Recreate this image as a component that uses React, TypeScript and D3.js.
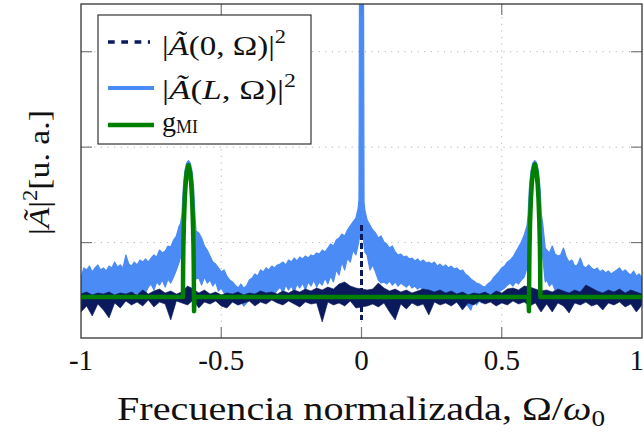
import React from 'react';
import * as d3 from 'd3';

// ---------- data ----------
const xTicks = [-1, -0.5, 0, 0.5, 1];
const xTickLabels = ['-1', '-0.5', '0', '0.5', '1'];
const yGrid = [1, 2, 3];

// |A(L,Ω)|^2 : [Ω, upper envelope, lower envelope]
const blueBand: [number, number, number][] = [
  [-1.00,0.629,0.440],[-0.99,0.734,0.398],[-0.98,0.713,0.430],[-0.97,0.754,0.440],[-0.96,0.692,0.377],
  [-0.95,0.734,0.440],[-0.94,0.765,0.451],[-0.93,0.713,0.419],[-0.92,0.734,0.451],[-0.91,0.702,0.440],
  [-0.90,0.754,0.461],[-0.89,0.734,0.440],[-0.88,0.796,0.451],[-0.87,0.744,0.440],[-0.86,0.765,0.472],
  [-0.85,0.734,0.451],[-0.84,0.870,0.461],[-0.83,0.775,0.472],[-0.82,0.754,0.451],[-0.81,0.796,0.482],
  [-0.80,0.765,0.461],[-0.79,0.817,0.472],[-0.78,0.796,0.503],[-0.77,0.828,0.472],[-0.76,0.796,0.534],
  [-0.75,0.838,0.566],[-0.74,0.870,0.503],[-0.73,0.849,0.587],[-0.72,0.922,0.555],[-0.71,0.891,0.608],
  [-0.70,0.912,0.534],[-0.69,0.964,0.618],[-0.68,0.954,0.576],[-0.67,1.027,0.639],[-0.66,1.069,0.713],
  [-0.65,1.174,0.796],[-0.645,1.20,0.85],[-0.640,1.30,1.10],[-0.638,1.42,1.36],[-0.636,1.55,1.50],
  [-0.633,1.66,1.62],[-0.629,1.76,1.72],[-0.624,1.83,1.80],[-0.617,1.86,1.82],[-0.610,1.83,1.80],
  [-0.605,1.76,1.72],[-0.601,1.66,1.62],[-0.598,1.55,1.50],[-0.596,1.42,1.36],[-0.594,1.30,1.10],
  [-0.590,1.12,0.62],[-0.58,1.100,0.629],[-0.57,1.048,0.555],[-0.56,0.964,0.639],[-0.55,0.922,0.576],
  [-0.54,0.859,0.608],[-0.53,0.796,0.545],[-0.52,0.775,0.587],[-0.51,0.734,0.493],[-0.50,0.692,0.524],
  [-0.49,0.713,0.472],[-0.48,0.650,0.451],[-0.47,0.608,0.419],[-0.46,0.587,0.398],[-0.45,0.555,0.367],
  [-0.44,0.524,0.346],[-0.43,0.566,0.388],[-0.42,0.524,0.335],[-0.41,0.545,0.367],[-0.40,0.608,0.398],
  [-0.39,0.629,0.419],[-0.38,0.671,0.430],[-0.37,0.650,0.419],[-0.36,0.713,0.440],[-0.35,0.692,0.430],
  [-0.34,0.734,0.451],[-0.33,0.713,0.440],[-0.32,0.754,0.482],[-0.31,0.734,0.461],[-0.30,0.765,0.503],
  [-0.29,0.775,0.534],[-0.28,0.796,0.472],[-0.27,0.765,0.555],[-0.26,0.817,0.503],[-0.25,0.796,0.545],
  [-0.24,0.838,0.482],[-0.23,0.807,0.566],[-0.22,0.849,0.524],[-0.21,0.828,0.576],[-0.20,0.859,0.503],
  [-0.19,0.838,0.587],[-0.18,0.870,0.545],[-0.17,0.859,0.608],[-0.16,0.891,0.534],[-0.15,0.880,0.587],
  [-0.14,0.922,0.555],[-0.13,0.901,0.629],[-0.12,0.943,0.566],[-0.11,0.985,0.650],[-0.10,0.964,0.587],
  [-0.09,1.027,0.713],[-0.08,1.048,0.660],[-0.07,1.090,0.796],[-0.06,1.069,0.713],[-0.05,1.132,0.838],
  [-0.04,1.174,0.796],[-0.03,1.216,0.922],[-0.02,1.257,0.870],[-0.012,1.362,0.975],[-0.009,1.446,1.027],
  [-0.007,4.0,1.05],[0.007,4.0,1.05],[0.009,1.425,0.975],[0.012,1.341,0.901],[0.02,1.236,0.870],
  [0.03,1.184,0.713],[0.04,1.132,0.765],[0.05,1.100,0.692],[0.06,1.048,0.608],[0.07,1.069,0.576],
  [0.08,1.006,0.587],[0.09,0.985,0.566],[0.10,0.943,0.597],[0.11,0.964,0.555],[0.12,0.901,0.587],
  [0.13,0.870,0.545],[0.14,0.880,0.576],[0.15,0.849,0.555],[0.16,0.859,0.534],[0.17,0.828,0.566],
  [0.18,0.838,0.524],[0.19,0.807,0.545],[0.20,0.828,0.513],[0.21,0.796,0.534],[0.22,0.817,0.493],
  [0.23,0.786,0.524],[0.24,0.796,0.482],[0.25,0.775,0.503],[0.26,0.796,0.461],[0.27,0.754,0.482],
  [0.28,0.775,0.440],[0.29,0.744,0.461],[0.30,0.765,0.430],[0.31,0.734,0.440],[0.32,0.754,0.419],
  [0.33,0.723,0.398],[0.34,0.734,0.377],[0.35,0.702,0.346],[0.36,0.713,0.314],[0.37,0.671,0.367],
  [0.38,0.650,0.335],[0.39,0.618,0.293],[0.40,0.597,0.398],[0.41,0.576,0.346],[0.42,0.566,0.388],
  [0.43,0.545,0.367],[0.44,0.534,0.398],[0.45,0.566,0.419],[0.46,0.587,0.388],[0.47,0.629,0.440],
  [0.48,0.660,0.461],[0.49,0.692,0.482],[0.50,0.734,0.503],[0.51,0.754,0.524],[0.52,0.796,0.555],
  [0.53,0.817,0.576],[0.54,0.849,0.545],[0.55,0.901,0.587],[0.56,0.954,0.566],[0.57,1.006,0.608],
  [0.58,1.079,0.639],[0.59,1.174,0.734],[0.594,1.30,1.10],[0.596,1.42,1.36],[0.598,1.55,1.50],
  [0.601,1.66,1.62],[0.605,1.76,1.72],[0.610,1.83,1.80],[0.618,1.86,1.82],[0.625,1.83,1.80],
  [0.630,1.76,1.72],[0.634,1.66,1.62],[0.637,1.55,1.50],[0.639,1.42,1.36],[0.641,1.30,1.10],
  [0.646,1.20,0.85],[0.655,0.943,0.587],[0.66,0.922,0.608],[0.67,0.891,0.545],[0.68,0.964,0.576],
  [0.69,0.880,0.503],[0.70,0.859,0.534],[0.71,0.870,0.472],[0.72,0.943,0.503],[0.73,0.849,0.461],
  [0.74,0.796,0.482],[0.75,0.817,0.451],[0.76,0.754,0.472],[0.77,0.765,0.440],[0.78,0.838,0.472],
  [0.79,0.754,0.461],[0.80,0.734,0.451],[0.81,0.765,0.440],[0.82,0.734,0.461],[0.83,0.713,0.430],
  [0.84,0.734,0.451],[0.85,0.692,0.419],[0.86,0.713,0.440],[0.87,0.681,0.398],[0.88,0.702,0.440],
  [0.89,0.671,0.419],[0.90,0.692,0.451],[0.91,0.713,0.430],[0.92,0.734,0.461],[0.93,0.692,0.419],
  [0.94,0.713,0.440],[0.95,0.681,0.409],[0.96,0.660,0.430],[0.97,0.702,0.398],[0.98,0.650,0.419],
  [0.99,0.671,0.430],[1.00,0.629,0.440],
];

// |A(0,Ω)|^2 : [Ω, upper envelope, lower envelope]
const navyBand: [number, number, number][] = [
  [-1.00,0.461,0.272],[-0.98,0.482,0.335],[-0.96,0.451,0.231],[-0.94,0.472,0.356],[-0.92,0.461,0.293],
  [-0.90,0.482,0.210],[-0.88,0.451,0.367],[-0.86,0.472,0.314],[-0.84,0.461,0.388],[-0.82,0.482,0.346],
  [-0.80,0.451,0.377],[-0.78,0.503,0.335],[-0.76,0.461,0.398],[-0.74,0.493,0.325],[-0.72,0.513,0.377],
  [-0.70,0.472,0.356],[-0.68,0.493,0.189],[-0.66,0.461,0.388],[-0.64,0.482,0.367],[-0.62,0.545,0.346],
  [-0.60,0.513,0.398],[-0.58,0.472,0.314],[-0.56,0.503,0.377],[-0.54,0.461,0.356],[-0.52,0.482,0.388],
  [-0.50,0.451,0.335],[-0.48,0.472,0.314],[-0.46,0.461,0.377],[-0.44,0.482,0.346],[-0.42,0.451,0.367],
  [-0.40,0.472,0.388],[-0.38,0.461,0.335],[-0.36,0.493,0.377],[-0.34,0.472,0.356],[-0.32,0.482,0.398],
  [-0.30,0.461,0.367],[-0.28,0.493,0.346],[-0.26,0.472,0.388],[-0.24,0.503,0.356],[-0.22,0.482,0.325],
  [-0.20,0.513,0.377],[-0.18,0.493,0.356],[-0.16,0.524,0.367],[-0.14,0.503,0.168],[-0.12,0.534,0.377],
  [-0.10,0.513,0.346],[-0.08,0.566,0.367],[-0.06,0.587,0.335],[-0.04,0.545,0.388],[-0.02,0.524,0.314],
  [0.00,1.184,0.189],
  [0.02,0.503,0.335],[0.04,0.513,0.356],[0.06,0.576,0.325],[0.08,0.524,0.367],[0.10,0.493,0.272],
  [0.12,0.513,0.189],[0.14,0.482,0.356],[0.16,0.503,0.304],[0.18,0.472,0.367],[0.20,0.493,0.335],
  [0.22,0.513,0.356],[0.24,0.503,0.241],[0.26,0.482,0.377],[0.28,0.503,0.346],[0.30,0.472,0.367],
  [0.32,0.493,0.335],[0.34,0.461,0.377],[0.36,0.482,0.293],[0.38,0.451,0.367],[0.40,0.472,0.346],
  [0.42,0.461,0.388],[0.44,0.482,0.356],[0.46,0.451,0.377],[0.48,0.493,0.335],[0.50,0.472,0.367],
  [0.52,0.513,0.346],[0.54,0.524,0.388],[0.56,0.503,0.356],[0.58,0.545,0.377],[0.60,0.534,0.335],
  [0.62,0.513,0.367],[0.64,0.493,0.272],[0.66,0.503,0.356],[0.68,0.482,0.272],[0.70,0.513,0.367],
  [0.72,0.493,0.335],[0.74,0.472,0.262],[0.76,0.503,0.367],[0.78,0.482,0.346],[0.80,0.555,0.377],
  [0.82,0.524,0.335],[0.84,0.493,0.356],[0.86,0.472,0.293],[0.88,0.503,0.367],[0.90,0.482,0.346],
  [0.92,0.513,0.377],[0.94,0.472,0.325],[0.96,0.503,0.356],[0.98,0.482,0.272],[1.00,0.461,0.346],
];

// g_MI
const greenOmega = [
  -1.0, -0.6365, -0.636, -0.635, -0.633, -0.630, -0.627, -0.623, -0.617, -0.611, -0.607, -0.604,
  -0.601, -0.599, -0.598, -0.597, -0.595, 0.595, 0.597, 0.598, 0.599, 0.601, 0.604, 0.607, 0.611,
  0.618, 0.624, 0.628, 0.631, 0.634, 0.636, 0.637, 0.6375, 1.0,
];
const greenValue = [
  0.43, 0.43, 0.74, 0.96, 1.22, 1.46, 1.61, 1.74, 1.81, 1.74, 1.61, 1.46,
  1.22, 0.96, 0.74, 0.28, 0.43, 0.43, 0.28, 0.74, 0.96, 1.22, 1.46, 1.61, 1.74,
  1.82, 1.74, 1.61, 1.46, 1.22, 0.96, 0.74, 0.43, 0.43,
];

// ---------- layout ----------
const W = 644;
const H = 435;
const P = { left: 81, right: 642, top: 4, bottom: 338 };
const NAVY = '#0b1a5c';
const BLUE = '#4b8bf5';
const GREEN = '#008000';
const FONT = "'Liberation Serif', 'Times New Roman', serif";

export default function App() {
  const x = d3.scaleLinear().domain([-1, 1]).range([P.left, P.right]);
  const y = d3.scaleLinear().domain([0, 3.5]).range([P.bottom, P.top]);

  const band = d3
    .area<[number, number, number]>()
    .x((d) => x(d[0]))
    .y0((d) => y(d[2]))
    .y1((d) => y(d[1]));

  const navyNoise = navyBand.filter((d) => d[1] - d[2] < 0.6);
  const navySpikes = navyBand.filter((d) => d[1] - d[2] >= 0.6);

  const greenLine = d3
    .line<number>()
    .x((d) => x(d))
    .y((_, i) => y(greenValue[i]));

  return (
    <svg
      width={W}
      height={H}
      style={{ position: 'absolute', left: 0, top: 0, background: '#fff' }}
    >
      <defs>
        <clipPath id="plotclip">
          <rect x={P.left} y={P.top} width={P.right - P.left} height={P.bottom - P.top} />
        </clipPath>
      </defs>
      <rect x={0} y={0} width={W} height={H} fill="#fff" />

      {/* grid */}
      <g stroke="#b4b4b4" strokeWidth={1} strokeDasharray="1.2 5.4">
        {yGrid.map((v) => (
          <line key={'gy' + v} x1={P.left} x2={P.right} y1={y(v)} y2={y(v)} />
        ))}
        {xTicks
          .filter((t) => t > -1 && t < 1)
          .map((t) => (
            <line key={'gx' + t} x1={x(t)} x2={x(t)} y1={P.top} y2={P.bottom} />
          ))}
      </g>

      {/* data */}
      <g clipPath="url(#plotclip)">
        <path
          d={band(blueBand) || ''}
          fill={BLUE}
          stroke={BLUE}
          strokeWidth={1.2}
          strokeLinejoin="round"
        />
        <path d={band(navyNoise) || ''} fill={NAVY} stroke={NAVY} strokeWidth={0.6} />
        {navySpikes.map((d) => (
          <line
            key={'ns' + d[0]}
            x1={x(d[0])}
            x2={x(d[0])}
            y1={y(d[1])}
            y2={y(d[2])}
            stroke={NAVY}
            strokeWidth={3}
            strokeDasharray="6 3"
          />
        ))}
        <path
          d={greenLine(greenOmega) || ''}
          fill="none"
          stroke={GREEN}
          strokeWidth={4.5}
          strokeLinejoin="round"
        />
      </g>

      {/* tick marks */}
      <g stroke="#7a7a7a" strokeWidth={1.2}>
        {xTicks
          .filter((t) => t > -1 && t < 1)
          .map((t) => (
            <g key={'tx' + t}>
              <line x1={x(t)} x2={x(t)} y1={P.bottom} y2={P.bottom - 11} />
              <line x1={x(t)} x2={x(t)} y1={P.top} y2={P.top + 11} />
            </g>
          ))}
        {yGrid.map((v) => (
          <g key={'ty' + v}>
            <line x1={P.left} x2={P.left + 11} y1={y(v)} y2={y(v)} />
            <line x1={P.right} x2={P.right - 11} y1={y(v)} y2={y(v)} />
          </g>
        ))}
      </g>

      {/* frame */}
      <rect
        x={P.left}
        y={P.top}
        width={P.right - P.left}
        height={P.bottom - P.top}
        fill="none"
        stroke="#333"
        strokeWidth={1.3}
      />

      {/* x tick labels */}
      <g fontFamily={FONT} fontSize={29} fill="#111">
        {xTicks.map((t, i) => (
          <text
            key={'lx' + t}
            x={t === 1 ? W : x(t)}
            y={370}
            textAnchor={t === 1 ? 'end' : 'middle'}
          >
            {xTickLabels[i]}
          </text>
        ))}
      </g>

      {/* x title */}
      <text
        x={117}
        y={420}
        fontFamily={FONT}
        fontSize={34}
        fill="#111"
        textLength={488}
        lengthAdjust="spacingAndGlyphs"
      >
        Frecuencia normalizada, Ω/<tspan fontStyle="italic">ω</tspan>
        <tspan fontSize={23} dy={6}>0</tspan>
      </text>

      {/* y title */}
      <text
        transform="translate(49,235) rotate(-90)"
        fontFamily={FONT}
        fontSize={30}
        fill="#111"
        textLength={125}
        lengthAdjust="spacingAndGlyphs"
      >
        |<tspan fontStyle="italic">Ã</tspan>|<tspan fontSize={20} dy={-12}>2</tspan>
        <tspan dy={12}>[u. a.]</tspan>
      </text>

      {/* legend */}
      <g>
        <rect x={98} y={15} width={213} height={129} fill="#fff" stroke="#222" strokeWidth={1.1} />
        <line x1={108} x2={150} y1={42} y2={42} stroke={NAVY} strokeWidth={3.6} strokeDasharray="6.7 6.6" />
        <line x1={108} x2={154} y1={88} y2={88} stroke={BLUE} strokeWidth={4} />
        <line x1={108} x2={154} y1={125} y2={125} stroke={GREEN} strokeWidth={4.5} />
        <g fontFamily={FONT} fontSize={28} fill="#111">
          <text x={162} y={55} textLength={124} lengthAdjust="spacingAndGlyphs">
            |<tspan fontStyle="italic">Ã</tspan>(0, Ω)|<tspan fontSize={19} dy={-12}>2</tspan>
          </text>
          <text x={162} y={99} textLength={134} lengthAdjust="spacingAndGlyphs">
            |<tspan fontStyle="italic">Ã</tspan>(<tspan fontStyle="italic">L</tspan>, Ω)|
            <tspan fontSize={19} dy={-12}>2</tspan>
          </text>
          <text x={162} y={131}>
            g<tspan fontSize={18} dy={2}>MI</tspan>
          </text>
        </g>
      </g>
    </svg>
  );
}
